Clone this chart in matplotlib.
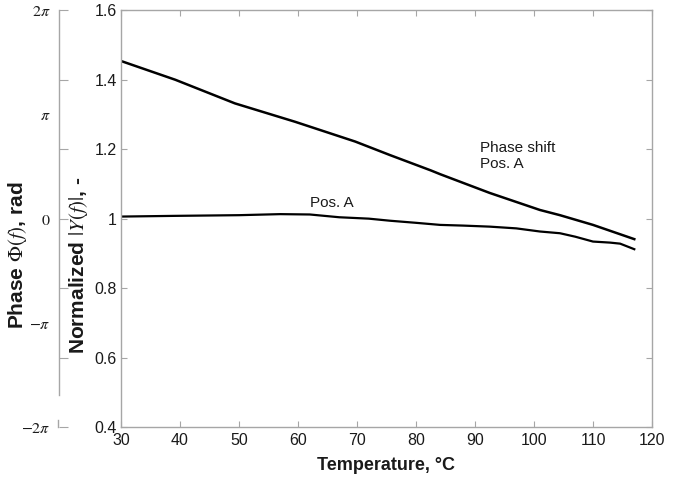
import numpy as np
import matplotlib
matplotlib.use("Agg")
import matplotlib.pyplot as plt
from matplotlib.lines import Line2D
from matplotlib.ticker import FixedLocator, FixedFormatter

plt.rcParams['font.family'] = ['Liberation Sans', 'DejaVu Sans']
plt.rcParams['mathtext.fontset'] = 'stix'

# ---- data ----
phase_T = [30, 39.2, 49.3, 59.5, 69.7, 75.6, 82.5, 84.1, 92.5, 101, 104.4, 110, 117]
phase_v = [1.454, 1.400, 1.332, 1.279, 1.222, 1.183, 1.139, 1.128, 1.074, 1.025, 1.010, 0.982, 0.941]

mag_T = [30, 39, 50, 57, 62, 67, 72, 75.6, 80, 84.1, 88, 92.5, 97, 101, 104.4, 107, 110, 112.9, 114.6, 117]
mag_v = [1.006, 1.008, 1.010, 1.013, 1.012, 1.004, 1.000, 0.994, 0.988, 0.982, 0.980, 0.977, 0.972,
         0.963, 0.958, 0.948, 0.934, 0.931, 0.928, 0.912]

x_ticks = [30, 40, 50, 60, 70, 80, 90, 100, 110, 120]
y_ticks = [0.4, 0.6, 0.8, 1.0, 1.2, 1.4, 1.6]
y_tick_labels = ['0.4', '0.6', '0.8', '1', '1.2', '1.4', '1.6']
phase_label_vals = [-2, -1, 0, 1, 2]
phase_labels = [r'$-2\pi$', r'$-\pi$', r'$0$', r'$\pi$', r'$2\pi$']

W, H = 694, 482
fig = plt.figure(figsize=(W / 100, H / 100), dpi=100)
left, right, top, bottom = 121, 652, 10.3, 427
rect = [left / W, 1 - bottom / H, (right - left) / W, (bottom - top) / H]

gray = '#a6a6a6'
txt = '#1a1a1a'

ax = fig.add_axes(rect)
ax.plot(phase_T, phase_v, color='black', lw=1.8)
ax.plot(mag_T, mag_v, color='black', lw=1.6)
ax.set_xlim(30, 120)
ax.set_ylim(0.4, 1.6)
ax.set_xticks(x_ticks)
ax.set_yticks(y_ticks)
ax.set_yticklabels(y_tick_labels)
for s in ax.spines.values():
    s.set_color(gray)
    s.set_linewidth(1.0)
ax.tick_params(direction='in', length=4, width=0.8, color=gray, labelsize=11.5,
               labelcolor=txt, top=True, right=True)
ax.tick_params(axis='x', pad=4)
ax.tick_params(axis='y', pad=3)

ax.text(0.676, 0.650, 'Phase shift\nPos. A', transform=ax.transAxes, fontsize=11,
        color=txt, ha='left', va='center', linespacing=1.2)
ax.text(0.356, 0.538, 'Pos. A', transform=ax.transAxes, fontsize=11,
        color=txt, ha='left', va='center')

# phase axis
ax2 = fig.add_axes(rect)
ax2.patch.set_visible(False)
for k in ['top', 'right', 'bottom']:
    ax2.spines[k].set_visible(False)
ax2.spines['left'].set_position(('outward', (left - 58.5) * 0.72))
ax2.spines['left'].set_color(gray)
ax2.spines['left'].set_linewidth(1.0)
ax2.set_xticks([])
ax2.set_ylim(-2 * np.pi, 2 * np.pi)
ax2.yaxis.remove_overlapping_locs = False
ax2.yaxis.set_major_locator(FixedLocator([v * np.pi for v in phase_label_vals]))
ax2.yaxis.set_major_formatter(FixedFormatter(phase_labels))
ax2.yaxis.set_minor_locator(FixedLocator(np.linspace(-2 * np.pi, 2 * np.pi, 7)))
ax2.tick_params(axis='y', which='major', length=0, labelsize=11.5, labelcolor=txt, pad=6)
ax2.tick_params(axis='y', which='minor', direction='in', length=6.5, width=0.8, color=gray)


def phase_at(ypix):
    return 2 * np.pi - (ypix - top) / (bottom - top) * 4 * np.pi


ax2.spines['left'].set_bounds(phase_at(395), 2 * np.pi)
fig.add_artist(Line2D([58.5 / W, 58.5 / W], [1 - 420 / H, 1 - bottom / H],
                      transform=fig.transFigure, color=gray, lw=1.0))

# axis labels
fig.text(386 / W, 1 - 465 / H, 'Temperature, °C', fontsize=13, fontweight='bold',
         color=txt, ha='center', va='center')
fig.text(18 / W, 1 - 255 / H, r'Phase $\mathit{\Phi}(f)$, rad', fontsize=15,
         fontweight='bold', color=txt, rotation=90, ha='center', va='center')
fig.text(79 / W, 1 - 265 / H, r'Normalized $|Y(f)|$, -', fontsize=15,
         fontweight='bold', color=txt, rotation=90, ha='center', va='center')

fig.savefig('out.png', dpi=100)
